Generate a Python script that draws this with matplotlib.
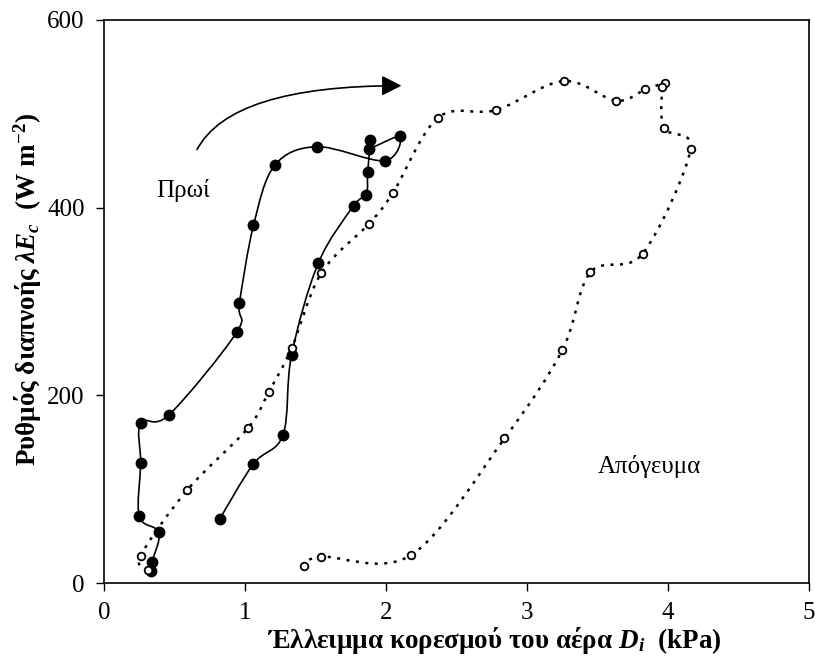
import matplotlib
matplotlib.use('Agg')
import matplotlib.pyplot as plt
import numpy as np
from matplotlib.path import Path
from matplotlib.patches import PathPatch

plt.rcParams['font.family'] = ['Liberation Serif', 'DejaVu Serif']
plt.rcParams['mathtext.fontset'] = 'custom'
plt.rcParams['mathtext.rm'] = 'Liberation Serif:bold'
plt.rcParams['mathtext.it'] = 'Liberation Serif:italic:bold'
plt.rcParams['mathtext.bf'] = 'Liberation Serif:bold'

# morning (filled markers, solid line)
am_d = [0.33, 0.34, 0.39, 0.25, 0.26, 0.26, 0.46, 0.94, 0.96, 1.06, 1.21, 1.51,
        1.99, 2.10, 1.88, 1.89, 1.87, 1.86, 1.77, 1.52, 1.33, 1.27, 1.06, 0.82]
am_e = [13, 22, 54, 71, 128, 171, 179, 267, 298, 381, 445, 465,
        450, 476, 463, 472, 438, 414, 402, 341, 243, 158, 127, 68]

# afternoon (open markers, dotted line)
pm_d = [0.31, 0.26, 0.59, 1.02, 1.17, 1.33, 1.54, 1.88, 2.05, 2.37, 2.78, 3.26,
        3.63, 3.84, 3.98, 3.96, 3.97, 4.16, 3.82, 3.45, 3.25, 2.84, 2.18, 1.54, 1.42]
pm_e = [14, 29, 99, 165, 204, 250, 330, 383, 416, 496, 504, 535,
        514, 526, 533, 529, 485, 462, 351, 331, 248, 154, 30, 28, 18]

xticks = [0, 1, 2, 3, 4, 5]
yticks = [0, 200, 400, 600]


def smooth_path(x, y):
    # smoothed line through the points (cubic Bezier, like a spreadsheet "smoothed line")
    p = np.column_stack([x, y]).astype(float)
    n = len(p)
    verts = [p[0]]
    codes = [Path.MOVETO]
    for i in range(n - 1):
        p0 = p[i - 1] if i > 0 else p[i]
        p3 = p[i + 2] if i + 2 < n else p[i + 1]
        verts += [p[i] + (p[i + 1] - p0) / 6, p[i + 1] - (p3 - p[i]) / 6, p[i + 1]]
        codes += [Path.CURVE4] * 3
    return Path(verts, codes)


fig = plt.figure(figsize=(8.15, 6.64), dpi=100)
ax = fig.add_axes([104 / 815, 81 / 664, 705 / 815, 563 / 664])

ax.add_patch(PathPatch(smooth_path(am_d, am_e), fill=False, color='black', lw=1.2))
ax.plot(am_d, am_e, ls='none', marker='o', ms=7.5, color='black')

ax.add_patch(PathPatch(smooth_path(pm_d, pm_e), fill=False, color='black', lw=1.8,
                       ls=(0, (1.2, 2.6))))
ax.plot(pm_d, pm_e, ls='none', marker='o', ms=5.5, mfc='white', mec='black', mew=1.3)

ax.annotate('', xy=(2.11, 530), xytext=(0.66, 462),
            arrowprops=dict(arrowstyle='-|>,head_length=0.55,head_width=0.28',
                            connectionstyle='angle3,angleA=62,angleB=0',
                            color='black', lw=1.2, mutation_scale=22,
                            shrinkA=0, shrinkB=0))

ax.text(0.56, 411, 'Πρωί', fontsize=18, ha='center', va='baseline')
ax.text(3.50, 117, 'Απόγευμα', fontsize=18, ha='left', va='baseline')

ax.set_xlim(0, 5)
ax.set_ylim(0, 600)
ax.set_xticks(xticks)
ax.set_yticks(yticks)
ax.tick_params(direction='out', length=6, width=1, labelsize=18, pad=8)

ax.set_xlabel('Έλλειμμα κορεσμού του αέρα $D_i$  (kPa)', fontsize=19.5, fontweight='bold')
ax.set_ylabel('Ρυθμός διαπνοής $\\lambda E_c$  (W m$^{-2}$)', fontsize=19.5, fontweight='bold')
ax.xaxis.set_label_coords(0.553, -0.075)
ax.yaxis.set_label_coords(-0.085, 0.522)

for s in ax.spines.values():
    s.set_linewidth(1.2)

fig.savefig('out.png', dpi=100)
